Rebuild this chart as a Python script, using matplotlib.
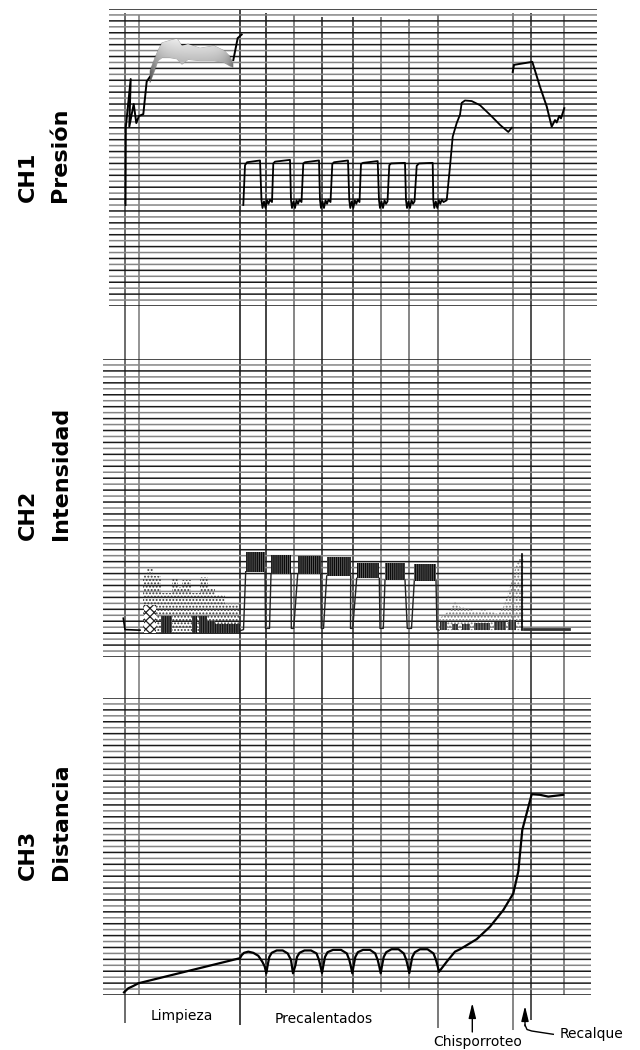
import numpy as np
import matplotlib.pyplot as plt

# Registro de soldadura a tope por chisporroteo: presion, intensidad y distancia

# instantes de los eventos (lineas verticales)
eventos_t = [125, 139, 240, 266, 294, 322, 353, 381, 409, 438, 513, 531, 564]

# CH1 - Presion (divisiones de la reticula, 0..50)
ch1_limp_t = [125.5, 125.8, 130.7, 129.3, 133.7, 136.3, 139.0, 143.3, 146.7, 150.0]
ch1_limp_v = [17.0, 30.1, 38.2, 30.2, 34.0, 30.8, 32.0, 32.3, 37.8, 38.6]

banda_t = [150, 155, 158, 162, 170, 177, 182, 188, 200, 214, 224, 230, 233]
banda_sup = [39.6, 41.8, 43.0, 44.3, 44.7, 45.0, 43.8, 44.1, 43.4, 43.8, 43.0, 42.0, 40.8]
banda_inf = [37.6, 39.8, 41.3, 41.8, 41.8, 41.6, 40.7, 41.5, 41.3, 41.3, 41.0, 40.4, 40.2]

ch1_subida_t = [233.3, 237.7, 241.7]
ch1_subida_v = [41.4, 45.1, 45.7]

ch1_pulsos_t = [
    243.3, 245.0, 247.0, 260.0, 261.5, 262.5, 264.0, 265.5, 267.0, 268.5, 270.0, 272.0,
    273.3, 275.0, 290.0, 291.0, 292.0, 293.5, 295.0, 296.5, 298.0, 299.5, 301.5,
    303.3, 305.0, 319.0, 320.0, 321.0, 322.5, 324.0, 325.5, 327.0, 328.5, 330.5,
    332.3, 334.0, 348.0, 349.3, 350.3, 351.8, 353.3, 354.8, 356.3, 357.8, 359.5,
    361.0, 363.0, 377.7, 379.0, 380.0, 381.5, 383.0, 384.5, 386.0, 387.5,
    389.3, 391.0, 405.0, 406.0, 407.0, 408.5, 410.0, 411.5, 413.0, 414.5,
    416.7, 419.0, 432.7, 433.3, 434.3, 435.8, 437.3, 438.8, 440.3, 441.8, 443.5, 446.7,
    450.0, 452.7, 456.7, 460.0, 461.7, 465.0, 471.7, 480.0, 490.0, 500.0, 508.3, 511.7]
ch1_pulsos_v = [
    17.0, 23.7, 24.2, 24.5, 17.8, 16.5, 17.6, 16.5, 17.8, 17.2, 17.9, 17.5,
    24.0, 24.3, 24.6, 17.8, 16.5, 17.6, 16.5, 17.8, 17.2, 17.9, 17.5,
    24.0, 24.2, 24.5, 17.8, 16.5, 17.6, 16.5, 17.8, 17.2, 17.9, 17.5,
    23.9, 24.2, 24.5, 17.8, 16.5, 17.6, 16.5, 17.8, 17.2, 17.9, 17.5,
    23.9, 24.1, 24.4, 17.8, 16.5, 17.6, 16.5, 17.8, 17.2, 17.6,
    23.7, 24.0, 24.1, 17.8, 16.5, 17.6, 16.5, 17.8, 17.2, 17.6,
    23.6, 24.0, 24.1, 17.8, 16.5, 17.6, 16.5, 17.8, 17.2, 17.9, 17.5, 17.8,
    23.5, 28.5, 30.8, 32.2, 34.2, 34.6, 34.5, 33.8, 32.2, 30.5, 29.3, 30.0]

ch1_recalque_t = [512.7, 514.0, 532.3, 540.0, 546.7, 551.7, 555.0, 556.7, 559.3, 561.0, 564.3]
ch1_recalque_v = [39.4, 40.6, 41.1, 36.9, 33.6, 30.2, 31.3, 30.9, 32.0, 31.6, 33.3]

# CH2 - Intensidad
ch2_inicio_t = [123.3, 125.0, 140.0]
ch2_inicio_v = [6.5, 4.6, 4.5]

limp_bordes = [142.7, 147.3, 153.3, 160.7, 171.7, 178.3, 181.7, 190.7, 200.0, 208.3, 215.0, 225.0, 240.0]
limp_sup = [13.8, 15.0, 13.6, 10.7, 13.2, 11.7, 12.9, 10.7, 13.5, 11.5, 10.4, 8.9]
limp_oscuro_ini = [160.7, 192.3, 199.0, 207.3, 215.0]
limp_oscuro_fin = [171.7, 197.3, 206.7, 215.0, 240.0]
limp_oscuro_sup = [6.9, 6.8, 6.9, 6.1, 5.5]
limp_cruz = [144.0, 156.0, 8.7]

bloques_ini = [245.7, 271.0, 297.7, 326.7, 356.7, 385.0, 414.3]
bloques_fin = [265.0, 291.0, 320.7, 350.7, 379.3, 405.0, 436.0]
bloques_sup = [17.7, 17.1, 17.0, 16.7, 15.8, 15.7, 15.6]
bloques_inf = [14.3, 13.9, 13.9, 13.6, 13.2, 12.9, 12.8]
valle_baja = [265.5, 291.3, 321.3, 350.5, 380.0, 407.3]
valle_sube = [269.5, 293.7, 323.5, 352.7, 383.3, 411.5]
ch2_arranque_t = [240.0, 243.5, 245.7]
ch2_arranque_v = [4.4, 4.6, 14.3]
ch2_cierre_t = [436.0, 437.0, 439.0]
ch2_cierre_v = [12.8, 4.6, 4.5]

chisp_t = [439.3, 443.3, 450.0, 455.0, 460.0, 466.7, 475.0, 483.3, 491.7, 498.3,
           503.3, 506.7, 510.0, 513.3, 516.7, 520.0, 523.3]
chisp_sup = [6.5, 7.0, 7.9, 9.3, 8.4, 8.2, 7.6, 7.9, 7.6, 7.2,
             8.4, 10.1, 11.8, 13.8, 15.7, 16.7, 17.3]
chisp_oscuro_ini = [440.0, 452.0, 462.0, 474.0, 494.0, 508.0]
chisp_oscuro_fin = [447.0, 458.0, 470.0, 490.0, 506.0, 516.0]
chisp_oscuro_sup = [5.8, 5.6, 5.5, 5.7, 5.8, 6.2]

ch2_pico_t = [522.3, 522.3]
ch2_pico_v = [17.3, 4.5]
ch2_recalque_t = [524.3, 569.3]
ch2_recalque_v = [4.7, 4.7]

# CH3 - Distancia
ch3_t = [124.0, 128.3, 133.3, 138.3, 240.0,
         241.7, 244.0, 248.3, 253.3, 258.3, 262.3, 264.7, 266.3,
         267.7, 269.3, 271.7, 276.7, 282.7, 287.7, 291.0, 293.0,
         295.4, 297.0, 299.5, 304.5, 311.0, 316.5, 319.0, 320.6, 322.0,
         323.4, 325.0, 327.5, 333.0, 341.0, 346.8, 349.3, 350.9, 352.3,
         353.7, 355.3, 357.8, 363.0, 370.0, 375.2, 377.7, 379.3, 380.7,
         382.1, 383.7, 386.2, 391.5, 398.5, 403.8, 406.3, 407.9, 409.3,
         410.7, 412.3, 414.8, 420.0, 427.5, 433.5, 436.0, 437.6, 439.0,
         446.7, 455.0, 460.0, 476.7, 490.0, 503.3, 513.3, 518.3, 520.7, 522.3,
         526.7, 531.7, 540.0, 548.3, 563.3]
ch3_v = [0.45, 1.13, 1.52, 1.97, 6.2,
         6.7, 7.1, 7.3, 7.1, 6.6, 5.6, 4.8, 3.65,
         5.05, 6.4, 7.1, 7.5, 7.5, 7.0, 5.9, 3.65,
         5.0, 6.4, 7.1, 7.5, 7.5, 7.0, 5.9, 4.8, 3.7,
         5.0, 6.4, 7.2, 7.6, 7.6, 7.0, 5.9, 4.8, 3.65,
         5.0, 6.4, 7.2, 7.6, 7.6, 7.0, 5.9, 4.8, 3.65,
         5.0, 6.4, 7.2, 7.7, 7.7, 7.0, 5.9, 4.8, 3.7,
         5.0, 6.4, 7.2, 7.7, 7.7, 7.0, 5.9, 4.9, 3.9,
         5.6, 7.3, 7.7, 9.4, 11.5, 14.3, 17.1, 20.8, 25.0, 27.8,
         30.6, 33.8, 33.7, 33.4, 33.7]

canales = ["CH1", "CH2", "CH3"]
magnitudes = ["Presión", "Intensidad", "Distancia"]
fases = ["Limpieza", "Precalentados", "Chisporroteo", "Recalque"]

W, H = 640, 1050
plt.rcParams['hatch.linewidth'] = 0.9

fig = plt.figure(figsize=(6.4, 10.5), dpi=100)

# hoja completa, para las lineas de eventos y los rotulos
hoja = fig.add_axes([0, 0, 1, 1])
hoja.set_xlim(0, W)
hoja.set_ylim(H, 0)
hoja.axis('off')

ev_top = [13, 15, 10, 13, 15, 17, 17, 17, 19, 15, 13, 13, 14]
ev_bot = [1023, 995, 1025, 993, 993, 993, 993, 992, 990, 1028, 1030, 1020, 995]
ev_color = ['#444444', '#777777', '#111111', '#111111', '#666666', '#222222', '#222222',
            '#666666', '#666666', '#555555', '#666666', '#222222', '#666666']
hoja.vlines(eventos_t, ev_top, ev_bot, colors=ev_color, lw=1.1, snap=False)


def crear_panel(top_px, bot_px, x0, x1):
    ax = fig.add_axes([0, 1 - bot_px / H, 1, (bot_px - top_px) / H])
    colores = ['#1a1a1a' if k % 2 == 0 else '#858585' for k in range(51)]
    ax.hlines(np.arange(51), x0, x1, colors=colores, lw=1.1, snap=False)
    ax.set_xlim(0, W)
    ax.set_ylim(0, 50)
    ax.axis('off')
    return ax


ax1 = crear_panel(9, 306, 109, 597)
ax2 = crear_panel(359, 657, 103, 591)
ax3 = crear_panel(698, 995, 103, 591)

# ---- CH1
poly = ax1.fill_between(banda_t, banda_inf, banda_sup, facecolor='none',
                        edgecolor='#a0a0a0', lw=0.6)
yy, xx = np.mgrid[0:1:60j, 0:1:120j]
grad = 0.55 + 0.38 * yy - 0.25 * np.exp(-xx / 0.1) - 0.25 * np.exp(-(1 - xx) / 0.08)
im = ax1.imshow(grad, extent=[min(banda_t), max(banda_t), min(banda_inf), max(banda_sup)],
                origin='lower', aspect='auto', cmap='gray', vmin=0, vmax=1,
                interpolation='bilinear', zorder=3)
im.set_clip_path(poly.get_paths()[0], ax1.transData)
ax1.set_xlim(0, W)
ax1.set_ylim(0, 50)

ax1.plot(ch1_limp_t, ch1_limp_v, color='k', lw=1.4)
ax1.plot(ch1_subida_t, ch1_subida_v, color='k', lw=1.4)
ax1.plot(ch1_pulsos_t, ch1_pulsos_v, color='k', lw=1.3)
ax1.plot(ch1_recalque_t, ch1_recalque_v, color='k', lw=1.4)

# ---- CH2
ax2.plot(ch2_inicio_t, ch2_inicio_v, color='k', lw=1.2)
ax2.fill_between(limp_bordes, 4.0, limp_sup + [limp_sup[-1]], step='post',
                 facecolor='none', edgecolor='#3a3a3a', hatch='.....', lw=0, zorder=3)
for a, b, s in zip(limp_oscuro_ini, limp_oscuro_fin, limp_oscuro_sup):
    ax2.fill_between([a, b], 4.0, s, facecolor='#555555', edgecolor='#111111',
                     hatch='|||||||', lw=0, zorder=3)
ax2.fill_between(limp_cruz[:2], 4.0, limp_cruz[2], facecolor='white',
                 edgecolor='#222222', hatch='xxxx', lw=0, zorder=3)

for a, b, s, i in zip(bloques_ini, bloques_fin, bloques_sup, bloques_inf):
    ax2.fill_between([a, b], i, s, facecolor='#666666', edgecolor='#0a0a0a',
                     hatch='||||||||', lw=0, zorder=3)
for k in range(len(valle_baja)):
    ax2.plot([bloques_fin[k], valle_baja[k], valle_sube[k], bloques_ini[k + 1]],
             [bloques_inf[k], 4.8, 4.8, bloques_inf[k + 1]], color='#222222', lw=1.0)
ax2.plot(ch2_arranque_t, ch2_arranque_v, color='#222222', lw=1.0)
ax2.plot(ch2_cierre_t, ch2_cierre_v, color='#222222', lw=1.0)

ax2.fill_between(chisp_t, 4.5, chisp_sup, facecolor='none', edgecolor='#7a7a7a',
                 hatch='.....', lw=0, zorder=3)
for a, b, s in zip(chisp_oscuro_ini, chisp_oscuro_fin, chisp_oscuro_sup):
    ax2.fill_between([a, b], 4.5, s, facecolor='#666666', edgecolor='#222222',
                     hatch='||||||', lw=0, zorder=3)
ax2.plot(ch2_pico_t, ch2_pico_v, color='k', lw=1.2, zorder=4)
ax2.plot(ch2_recalque_t, ch2_recalque_v, color='#333333', lw=2.0)

# ---- CH3
ax3.plot(ch3_t, ch3_v, color='k', lw=1.6)

# ---- rotulos de canal
label_x = [(28, 60), (28, 61), (28, 61)]
label_bottom = [202, 540, 880]
for (xc, xm), yb, c, m in zip(label_x, label_bottom, canales, magnitudes):
    fig.text(xc / W, 1 - yb / H, c, rotation=90, ha='center', va='bottom',
             fontsize=16, fontweight='bold', family='DejaVu Sans')
    fig.text(xm / W, 1 - yb / H, m, rotation=90, ha='center', va='bottom',
             fontsize=16, fontweight='bold', family='DejaVu Sans')

# ---- fases
hoja.text(181.7, 1016, fases[0], ha='center', va='center', fontsize=10)
hoja.text(324, 1019, fases[1], ha='center', va='center', fontsize=10)
hoja.text(478, 1042, fases[2], ha='center', va='center', fontsize=10)
hoja.text(560, 1034, fases[3], ha='left', va='center', fontsize=10)

flecha = dict(arrowstyle='-|>,head_length=0.9,head_width=0.22', color='k', lw=1.0,
              shrinkA=0, shrinkB=0)
hoja.annotate('', xy=(472.3, 1003), xytext=(472.3, 1032), arrowprops=flecha)
hoja.annotate('', xy=(525, 1006), xytext=(525, 1026), arrowprops=flecha)
hoja.plot([525, 527, 531.7, 553.3], [1025, 1029.5, 1031, 1034.3], color='k', lw=1.0)

fig.savefig('out.png', dpi=100)
